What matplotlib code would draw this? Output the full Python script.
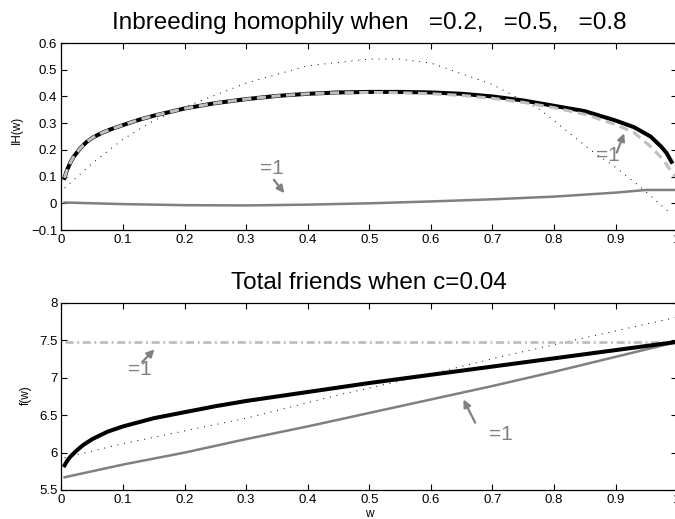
import matplotlib
matplotlib.use("Agg")
import matplotlib.pyplot as plt

plt.rcParams['font.family'] = ['Liberation Sans', 'DejaVu Sans']

# inbreeding homophily curves
w_ih = [0.005, 0.0075, 0.01, 0.015, 0.02, 0.03, 0.04, 0.05, 0.065, 0.08, 0.1, 0.125,
        0.15, 0.2, 0.25, 0.3, 0.35, 0.4, 0.45, 0.5, 0.55, 0.6, 0.65, 0.7, 0.75,
        0.8, 0.85, 0.9, 0.93, 0.957, 0.975, 0.983, 0.991]
ih_black = [0.095, 0.115, 0.13, 0.155, 0.175, 0.205, 0.228, 0.245, 0.263, 0.277, 0.293, 0.312,
            0.328, 0.355, 0.375, 0.39, 0.402, 0.41, 0.415, 0.417, 0.417, 0.415, 0.41, 0.40, 0.385,
            0.365, 0.345, 0.31, 0.285, 0.25, 0.21, 0.188, 0.155]
w_ihd = [0.005, 0.0075, 0.01, 0.015, 0.02, 0.03, 0.04, 0.05, 0.065, 0.08, 0.1, 0.125,
         0.15, 0.2, 0.25, 0.3, 0.35, 0.4, 0.45, 0.5, 0.55, 0.6, 0.65, 0.7, 0.75,
         0.8, 0.85, 0.9, 0.93, 0.957, 0.978, 0.991, 0.997]
ih_dashed = [0.095, 0.115, 0.13, 0.155, 0.175, 0.205, 0.228, 0.245, 0.263, 0.277, 0.293, 0.312,
             0.328, 0.355, 0.375, 0.39, 0.402, 0.41, 0.414, 0.415, 0.414, 0.41, 0.404, 0.393, 0.378,
             0.358, 0.333, 0.295, 0.265, 0.212, 0.162, 0.118, 0.10]

w_dot = [0.005, 0.05, 0.1, 0.15, 0.2, 0.3, 0.4, 0.5, 0.55, 0.6, 0.7, 0.778, 0.859, 0.9, 0.94, 0.989]
ih_dot = [0.057, 0.15, 0.24, 0.31, 0.36, 0.45, 0.515, 0.54, 0.54, 0.525, 0.445, 0.35,
          0.20, 0.135, 0.062, -0.037]

w_flat = [0.005, 0.1, 0.2, 0.3, 0.4, 0.5, 0.6, 0.7, 0.8, 0.9, 0.95, 1.0]
ih_flat = [0.003, -0.003, -0.007, -0.008, -0.005, 0.0, 0.007, 0.015, 0.025, 0.04, 0.05, 0.05]

# total friends curves
w_f = [0.005, 0.01, 0.015, 0.025, 0.035, 0.05, 0.075, 0.1, 0.15, 0.2, 0.25, 0.3, 0.4, 0.5,
       0.6, 0.7, 0.8, 0.9, 1.0]
f_black = [5.83, 5.9, 5.95, 6.03, 6.1, 6.18, 6.28, 6.35, 6.46, 6.54, 6.62, 6.69, 6.81, 6.93,
           7.04, 7.15, 7.26, 7.37, 7.48]
w_lin = [0.005, 0.1, 0.2, 0.3, 0.4, 0.5, 0.6, 0.7, 0.8, 0.9, 1.0]
f_gray = [5.67, 5.84, 6.0, 6.18, 6.35, 6.53, 6.71, 6.89, 7.08, 7.28, 7.48]
w_fdot = [0.005, 0.1, 0.2, 0.3, 0.45, 0.6, 0.713, 0.82, 1.0]
f_dot = [5.93, 6.12, 6.29, 6.46, 6.77, 7.05, 7.28, 7.48, 7.81]
w_const = [0.005, 1.0]
f_const = [7.48, 7.48]

xticks = [0, 0.1, 0.2, 0.3, 0.4, 0.5, 0.6, 0.7, 0.8, 0.9, 1]
xticklabels = ['0', '0.1', '0.2', '0.3', '0.4', '0.5', '0.6', '0.7', '0.8', '0.9', '1']

LIGHT = '0.75'
MID = '0.5'

fig = plt.figure(figsize=(6.75, 5.19), dpi=100)
ax1 = fig.add_axes([0.0911, 0.5568, 0.912, 0.3603])
ax2 = fig.add_axes([0.0911, 0.0559, 0.912, 0.3603])

for ax in (ax1, ax2):
    ax.set_xlim(0, 1)
    ax.set_xticks(xticks)
    ax.set_xticklabels(xticklabels)
    ax.tick_params(direction='in', top=True, right=True, length=4, width=0.8,
                   labelsize=9.5, pad=3)
    for s in ax.spines.values():
        s.set_linewidth(0.9)

# top panel
ax1.plot(w_dot, ih_dot, color='k', lw=0.7, linestyle=(0, (1, 6)))
ax1.plot(w_flat, ih_flat, color=MID, lw=1.8)
ax1.plot(w_ih, ih_black, color='k', lw=2.9)
ax1.plot(w_ihd, ih_dashed, color=LIGHT, lw=2.2, linestyle=(0, (3, 1.8)))
ax1.set_ylim(-0.1, 0.6)
ax1.set_yticks([-0.1, 0, 0.1, 0.2, 0.3, 0.4, 0.5, 0.6])
ax1.set_yticklabels(['\u22120.1', '0', '0.1', '0.2', '0.3', '0.4', '0.5', '0.6'])
ax1.set_ylabel('IH(w)', fontsize=8.5)
ax1.yaxis.set_label_coords(-0.0625, 0.535)
ax1.set_title('Inbreeding homophily when   =0.2,   =0.5,   =0.8', fontsize=17.5, pad=10)

arrow = dict(arrowstyle='-|>', color=MID, lw=1.6, mutation_scale=11, shrinkA=0, shrinkB=0)
ax1.text(0.342, 0.13, '=1', color=MID, fontsize=15, ha='center', va='center')
ax1.annotate('', xy=(0.362, 0.038), xytext=(0.345, 0.088), arrowprops=arrow)
ax1.text(0.888, 0.18, '=1', color=MID, fontsize=15, ha='center', va='center')
ax1.annotate('', xy=(0.914, 0.262), xytext=(0.902, 0.19), arrowprops=arrow)

# bottom panel
ax2.plot(w_fdot, f_dot, color='k', lw=0.7, linestyle=(0, (1, 6)))
ax2.plot(w_const, f_const, color=LIGHT, lw=2.0, linestyle=(0, (2.9, 1.3, 0.7, 1.3)))
ax2.plot(w_lin, f_gray, color=MID, lw=1.8)
ax2.plot(w_f, f_black, color='k', lw=2.9)
ax2.set_ylim(5.5, 8)
ax2.set_yticks([5.5, 6, 6.5, 7, 7.5, 8])
ax2.set_yticklabels(['5.5', '6', '6.5', '7', '7.5', '8'])
ax2.set_ylabel('f(w)', fontsize=8.5)
ax2.yaxis.set_label_coords(-0.048, 0.508)
ax2.set_xlabel('w', fontsize=8.5, labelpad=1)
ax2.set_title('Total friends when c=0.04', fontsize=17.5, pad=10)

ax2.text(0.128, 7.11, '=1', color=MID, fontsize=15, ha='center', va='center')
ax2.annotate('', xy=(0.151, 7.38), xytext=(0.131, 7.21), arrowprops=arrow)
ax2.text(0.714, 6.24, '=1', color=MID, fontsize=15, ha='center', va='center')
ax2.annotate('', xy=(0.653, 6.71), xytext=(0.672, 6.40), arrowprops=arrow)

fig.savefig('out.png', dpi=100)
